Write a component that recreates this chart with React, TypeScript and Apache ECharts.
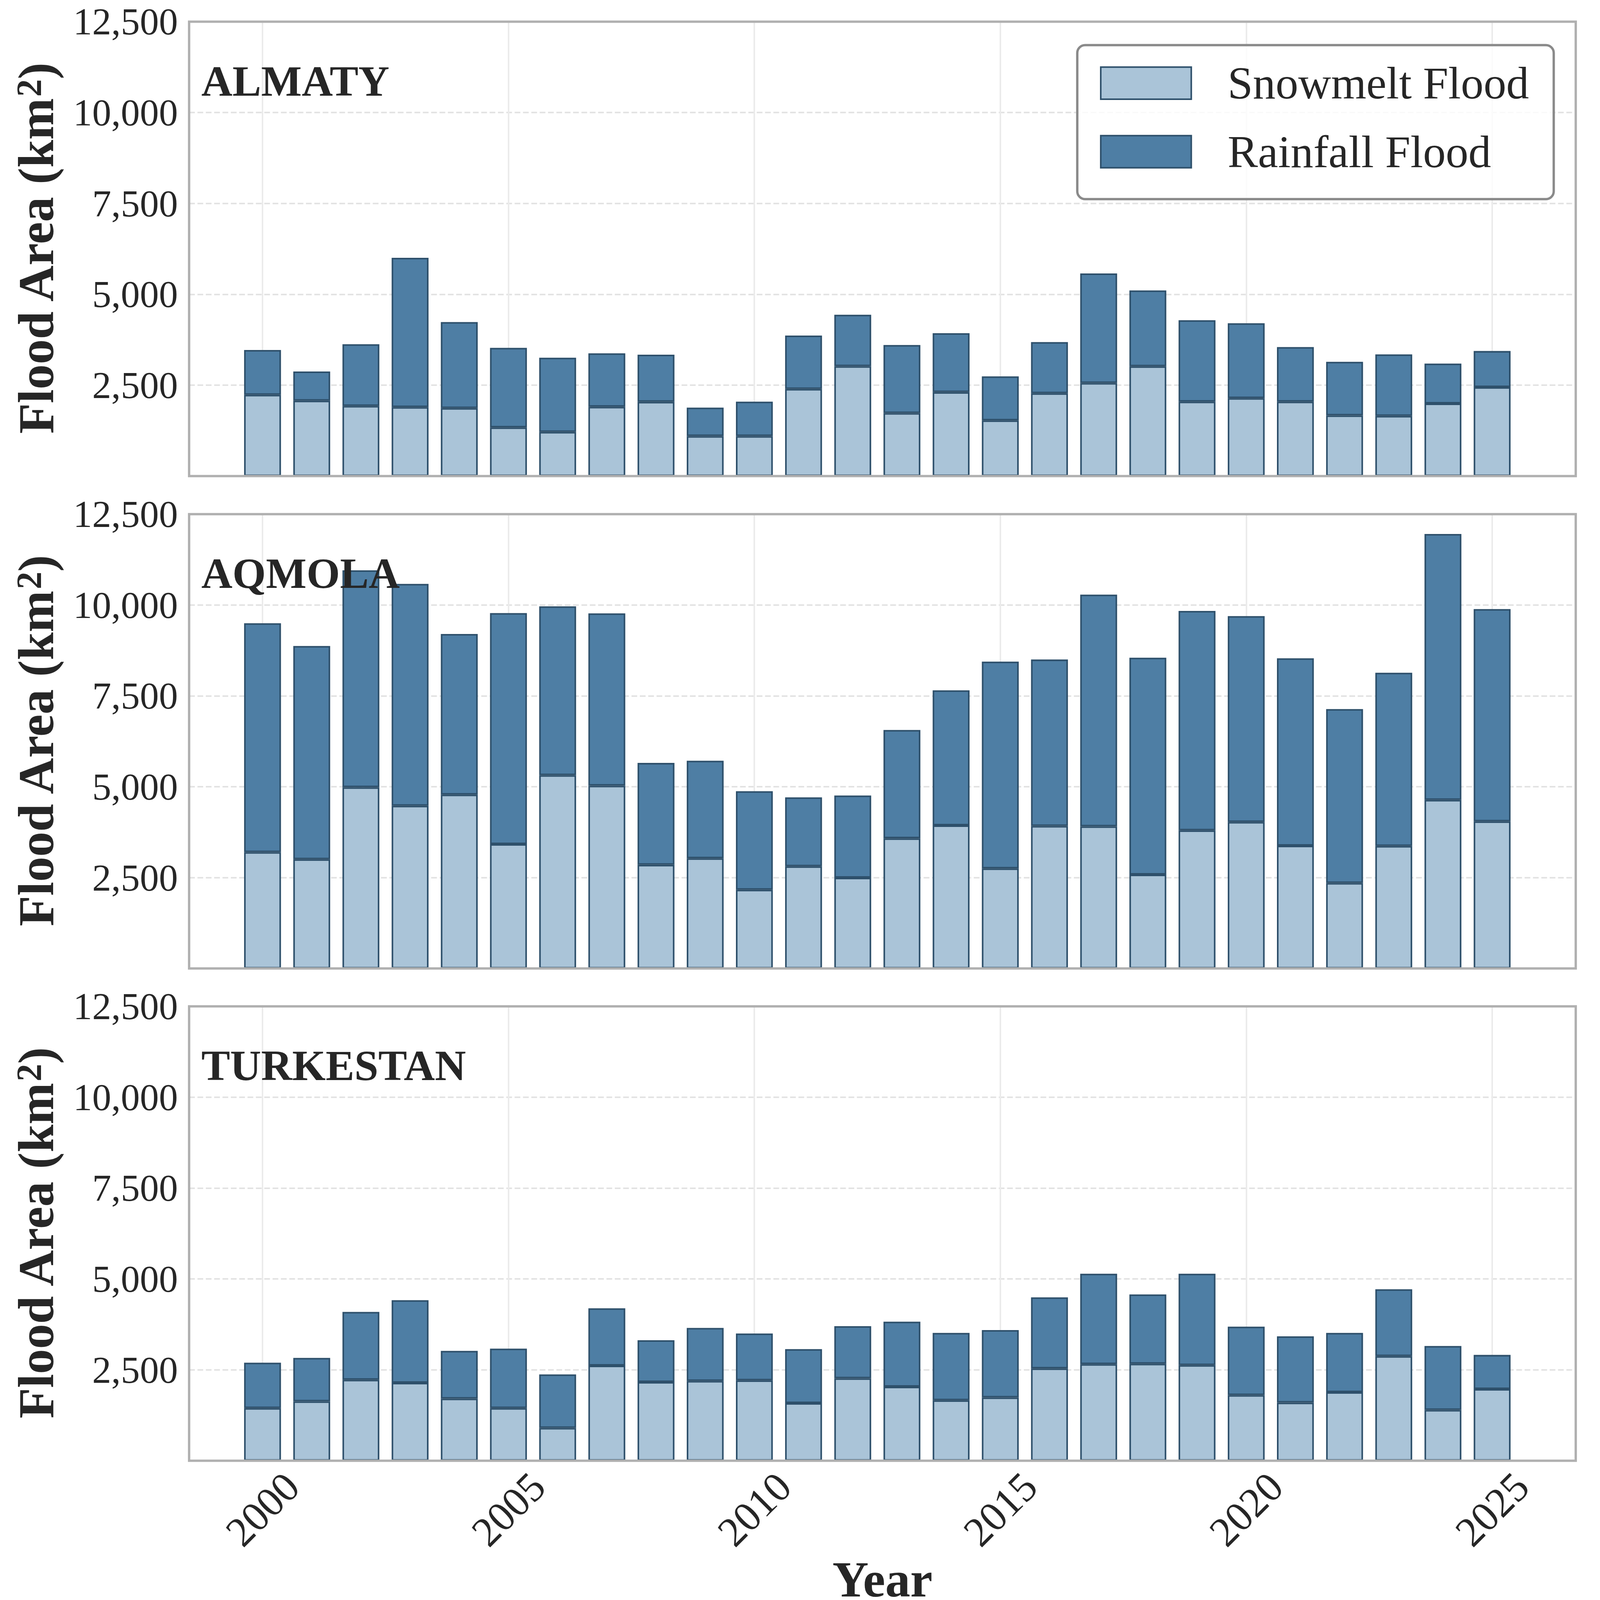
import React, { useEffect, useRef } from 'react';
import * as echarts from 'echarts';

// ---------------- data ----------------
const YEARS = [
  2000, 2001, 2002, 2003, 2004, 2005, 2006, 2007, 2008, 2009, 2010, 2011, 2012,
  2013, 2014, 2015, 2016, 2017, 2018, 2019, 2020, 2021, 2022, 2023, 2024, 2025,
];

const REGIONS = ['ALMATY', 'AQMOLA', 'TURKESTAN'];
const SERIES_NAMES = ['Snowmelt Flood', 'Rainfall Flood'];

const ALMATY_SNOWMELT = [
  2235, 2074, 1928, 1896, 1868, 1337, 1213, 1905, 2042, 1099, 1099, 2395, 3022,
  1731, 2308, 1529, 2276, 2560, 3018, 2047, 2143, 2047, 1667, 1653, 1996, 2445,
];
const ALMATY_RAINFALL = [
  1231, 802, 1699, 4107, 2368, 2189, 2043, 1470, 1296, 783, 948, 1470, 1415,
  1873, 1621, 1214, 1410, 3013, 2088, 2239, 2061, 1502, 1474, 1694, 1099, 994,
];

const AQMOLA_SNOWMELT = [
  3200, 3005, 4986, 4478, 4783, 3420, 5317, 5029, 2853, 3031, 2167, 2811, 2497,
  3581, 3937, 2751, 3920, 3911, 2582, 3801, 4030, 3378, 2353, 3369, 4639, 4047,
];
const AQMOLA_RAINFALL = [
  6299, 5867, 5969, 6104, 4420, 6358, 4647, 4741, 2802, 2684, 2709, 1896, 2261,
  2980, 3716, 5690, 4580, 6375, 5969, 6036, 5663, 5156, 4784, 4767, 7315, 5841,
];

const TURKESTAN_SNOWMELT = [
  1447, 1632, 2226, 2143, 1707, 1447, 903, 2617, 2164, 2193, 2209, 1583, 2267,
  2036, 1661, 1739, 2539, 2655, 2667, 2630, 1805, 1599, 1884, 2877, 1397, 1970,
];
const TURKESTAN_RAINFALL = [
  1249, 1196, 1867, 2272, 1314, 1636, 1471, 1575, 1150, 1459, 1291, 1488, 1435,
  1789, 1855, 1855, 1954, 2489, 1908, 2514, 1884, 1822, 1632, 1839, 1760, 940,
];

const SNOWMELT = [ALMATY_SNOWMELT, AQMOLA_SNOWMELT, TURKESTAN_SNOWMELT];
const RAINFALL = [ALMATY_RAINFALL, AQMOLA_RAINFALL, TURKESTAN_RAINFALL];

// axis settings
const Y_MIN = 0;
const Y_MAX = 12500;
const Y_STEP = 2500;
const X_MIN = 1998.507;
const X_MAX = 2026.7;
const X_STEP = 5;

// ---------------- styles (reference pixels, scaled at run time) ----------------
const W = 6134;
const H = 6186;
const FONT = "'Liberation Serif', 'Times New Roman', Times, serif";
const TEXT = '#262626';
const SNOW_COLOR = '#aac4d8';
const RAIN_COLOR = '#4e7ea4';
const EDGE = '#2e506b';
const GRID_LEFT = 725;
const GRID_RIGHT_EDGE = 6041;
const GRID_TOPS = [83, 1971, 3858];
const GRID_H = 1742;

function buildOption(k: number) {
  const P = (v: number) => v * k;

  const grids = GRID_TOPS.map((t) => ({
    left: P(GRID_LEFT),
    top: P(t),
    width: P(GRID_RIGHT_EDGE - GRID_LEFT),
    height: P(GRID_H),
    show: true,
    borderColor: '#b0b0b0',
    borderWidth: P(9),
    backgroundColor: 'transparent',
    z: 10,
  }));

  const xAxes = GRID_TOPS.map((_, i) => ({
    type: 'value',
    gridIndex: i,
    min: X_MIN,
    max: X_MAX,
    minInterval: X_STEP,
    maxInterval: X_STEP,
    axisLine: { show: false },
    axisTick: { show: false },
    splitLine: { show: true, lineStyle: { color: '#ebebeb', width: P(6), type: 'solid' } },
    axisLabel: {
      show: i === 2,
      rotate: 45,
      align: 'center',
      verticalAlign: 'middle',
      margin: P(186),
      fontFamily: FONT,
      fontSize: P(160),
      color: TEXT,
      formatter: (v: number) => {
        const r = Math.round(v);
        return Math.abs(v - r) < 1e-6 && r % X_STEP === 0 ? String(r) : '';
      },
    },
    name: i === 2 ? 'Year' : '',
    nameLocation: 'middle',
    nameGap: P(314),
    nameTextStyle: {
      fontFamily: FONT,
      fontSize: P(192),
      fontWeight: 'bold',
      color: TEXT,
      lineHeight: P(192),
    },
  }));

  const yAxes = GRID_TOPS.map((_, i) => ({
    type: 'value',
    gridIndex: i,
    min: Y_MIN,
    max: Y_MAX,
    interval: Y_STEP,
    axisLine: { show: false },
    axisTick: { show: false },
    splitLine: {
      show: true,
      lineStyle: { color: '#e3e3e3', width: P(6), type: [P(22), P(10)] },
    },
    axisLabel: {
      margin: P(43),
      fontFamily: FONT,
      fontSize: P(146),
      color: TEXT,
      formatter: (v: number) => (v === 0 ? '' : v.toLocaleString('en-US')),
    },
    name: '{b|Flood Area (km}{s|2}{b|)}',
    nameLocation: 'middle',
    nameRotate: 90,
    nameGap: P(489),
    nameTextStyle: {
      fontFamily: FONT,
      fontSize: P(192),
      fontWeight: 'bold',
      color: TEXT,
      lineHeight: P(192),
      rich: {
        b: { fontFamily: FONT, fontSize: P(192), fontWeight: 'bold', color: TEXT, lineHeight: P(192) },
        s: {
          fontFamily: FONT,
          fontSize: P(135),
          fontWeight: 'bold',
          color: TEXT,
          lineHeight: P(85),
          verticalAlign: 'top',
        },
      },
    },
  }));

  // data rows are [area, year] so that the stacked dimension is the area
  const series: any[] = [];
  REGIONS.forEach((_, i) => {
    series.push({
      type: 'bar',
      name: SERIES_NAMES[0],
      xAxisIndex: i,
      yAxisIndex: i,
      stack: 'region' + i,
      barWidth: '75%',
      encode: { x: 1, y: 0 },
      data: YEARS.map((y, j) => [SNOWMELT[i][j], y]),
      itemStyle: { color: SNOW_COLOR, borderColor: EDGE, borderWidth: P(6) },
      emphasis: { disabled: true },
      z: 2,
    });
    series.push({
      type: 'bar',
      name: SERIES_NAMES[1],
      xAxisIndex: i,
      yAxisIndex: i,
      stack: 'region' + i,
      barWidth: '75%',
      encode: { x: 1, y: 0 },
      data: YEARS.map((y, j) => [RAINFALL[i][j], y]),
      itemStyle: { color: RAIN_COLOR, borderColor: EDGE, borderWidth: P(6) },
      emphasis: { disabled: true },
      z: 2,
    });
  });

  const titles = REGIONS.map((name, i) => ({
    type: 'text',
    x: P(772),
    y: P(GRID_TOPS[i] + 228),
    z: 20,
    style: {
      text: name,
      fontFamily: FONT,
      fontSize: P(165),
      fontWeight: 'bold',
      fill: TEXT,
      align: 'left',
      verticalAlign: 'middle',
    },
  }));

  return {
    animation: false,
    backgroundColor: '#ffffff',
    grid: grids,
    xAxis: xAxes,
    yAxis: yAxes,
    series,
    legend: {
      data: SERIES_NAMES,
      orient: 'vertical',
      left: P(4130),
      top: P(173),
      icon: 'rect',
      itemWidth: P(347),
      itemHeight: P(123),
      itemGap: P(89),
      padding: [P(59), P(95), P(95), P(87)],
      backgroundColor: 'rgba(255,255,255,0.8)',
      borderColor: '#8a8a8a',
      borderWidth: P(9),
      borderRadius: P(30),
      selectedMode: false,
      itemStyle: { borderColor: EDGE, borderWidth: P(6) },
      textStyle: {
        fontFamily: FONT,
        fontSize: P(174),
        color: TEXT,
        padding: [0, 0, 0, P(132)],
      },
      z: 15,
    },
    graphic: titles,
  };
}

export default function App() {
  const ref = useRef<HTMLDivElement>(null);
  const k = typeof window !== 'undefined' && window.innerWidth ? window.innerWidth / W : 1;
  useEffect(() => {
    if (!ref.current) return;
    const chart = echarts.init(ref.current, null, { renderer: 'svg' });
    chart.setOption(buildOption(k) as any);
    return () => chart.dispose();
  }, [k]);
  return (
    <div
      ref={ref}
      style={{
        position: 'absolute',
        left: 0,
        top: 0,
        width: W * k,
        height: H * k,
        background: '#ffffff',
      }}
    />
  );
}
